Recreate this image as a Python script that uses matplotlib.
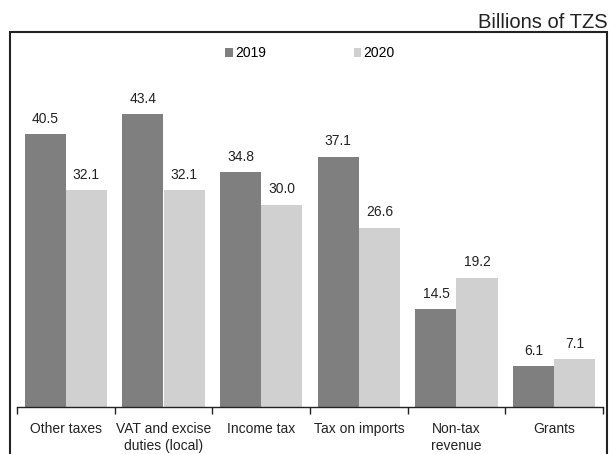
import numpy as np
from matplotlib import pyplot as plt
from matplotlib.patches import Rectangle

plt.rcParams['font.family'] = ['Liberation Sans', 'DejaVu Sans']

categories = ["Other taxes", "VAT and excise\nduties (local)", "Income tax",
              "Tax on imports", "Non-tax\nrevenue", "Grants"]
values_2019 = [40.5, 43.4, 34.8, 37.1, 14.5, 6.1]
values_2020 = [32.1, 32.1, 30.0, 26.6, 19.2, 7.1]
series_names = ["2019", "2020"]

dark = "#7f7f7f"
light = "#d0d0d0"

fig = plt.figure(figsize=(6.1, 4.54), dpi=100)
# axes: x 17..603 px, y 32..407 px (from top)
ax = fig.add_axes([17 / 610, (454 - 407) / 454, 586 / 610, 375 / 454])

x = np.arange(len(categories))
w = 0.42
b1 = ax.bar(x - w / 2, values_2019, w, color=dark, label=series_names[0])
b2 = ax.bar(x + w / 2, values_2020, w, color=light, label=series_names[1])

for bars in (b1, b2):
  for r in bars:
    ax.annotate(f"{r.get_height():.1f}", (r.get_x() + r.get_width() / 2, r.get_height()),
                xytext=(0, 6), textcoords="offset points", ha="center", va="bottom",
                fontsize=10, color="#222222")

ax.set_xlim(-0.5, len(categories) - 0.5)
ax.set_ylim(0, 55.6)
ax.set_yticks([])
ax.set_xticks(x)
ax.set_xticklabels(categories, fontsize=10, color="#222222", linespacing=1.25)
ax.set_xticks(np.arange(len(categories) + 1) - 0.5, minor=True)
ax.tick_params(axis="x", which="major", length=0, pad=11)
ax.tick_params(axis="x", which="minor", length=5, width=1, color="#222222", direction="out")
for s in ("top", "right", "left"):
  ax.spines[s].set_visible(False)
ax.spines["bottom"].set_color("#222222")
ax.spines["bottom"].set_linewidth(1)

leg = ax.legend(loc="upper center", bbox_to_anchor=(0.50, 0.995), ncol=2, frameon=False,
                fontsize=10, handlelength=0.55, handleheight=0.55, handletextpad=0.15,
                columnspacing=6.3)

# outer frame
fig.patches.append(Rectangle((10 / 610, -0.05), 597 / 610, (454 - 32) / 454 + 0.05,
                             transform=fig.transFigure, fill=False, edgecolor="#222222",
                             linewidth=1.5))

fig.text(608 / 610, (454 - 28) / 454, "Billions of TZS", ha="right", va="baseline",
         fontsize=14.5, color="#222222")

fig.savefig("out.png", dpi=100)
